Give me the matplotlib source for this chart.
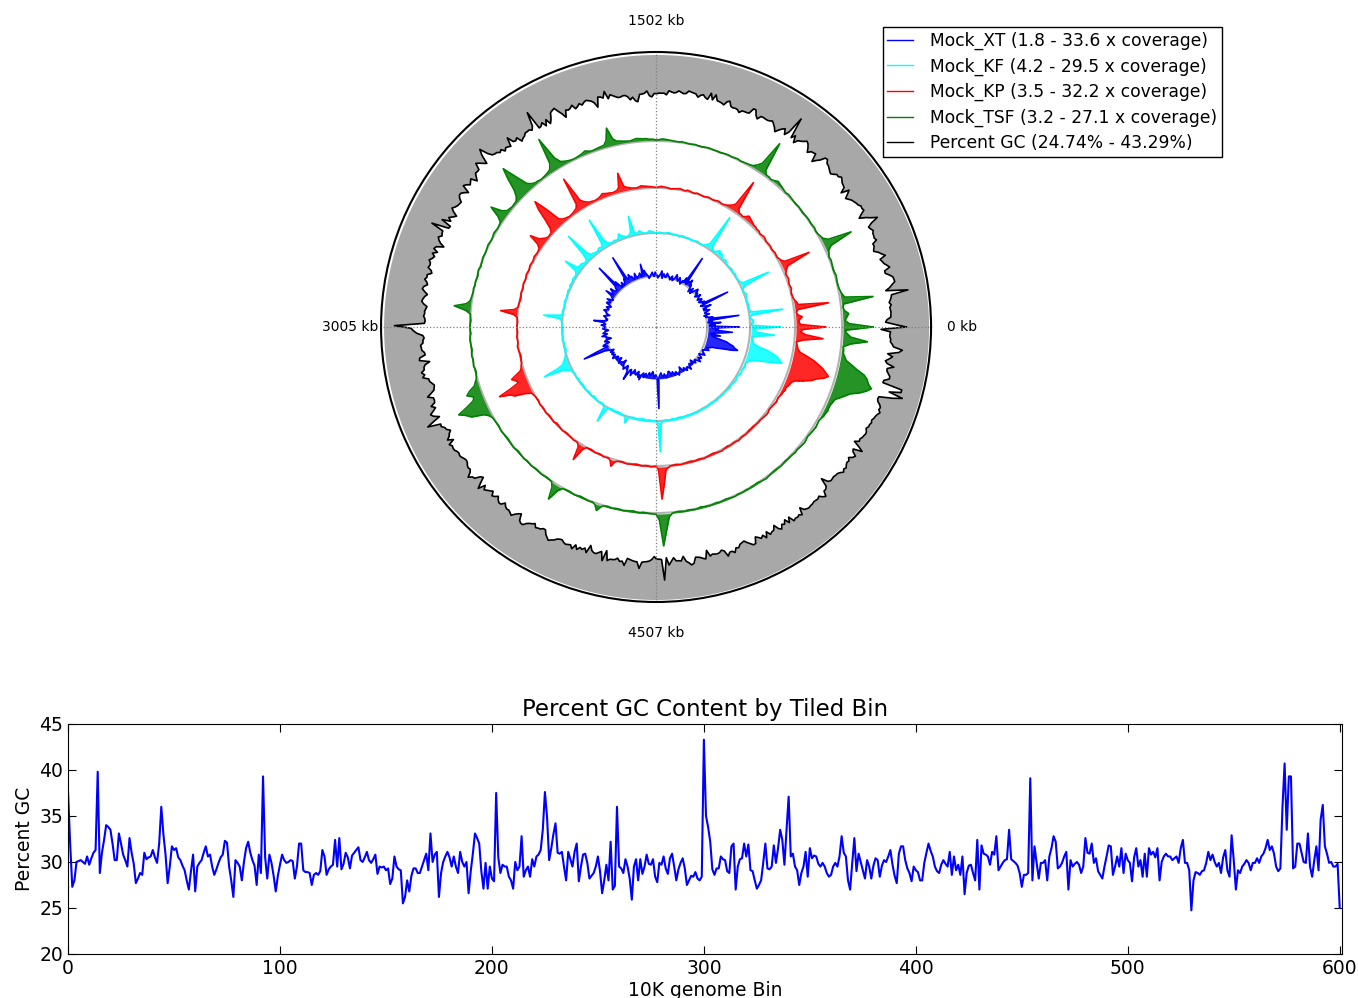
import numpy as np
import matplotlib
matplotlib.use('Agg')
import matplotlib.pyplot as plt
from matplotlib.lines import Line2D

# ------------------------------------------------------------------ data
GENOME_KB = 6010
BIN_KB = 10

# percent GC per 10 kb bin (bins 0..600)
gc_percent = [
    37.6, 32.0, 27.3, 28.0, 30.0, 30.1, 30.2, 30.0, 29.8, 30.6,
    29.7, 30.4, 31.0, 31.3, 39.8, 28.8, 31.0, 32.4, 34.0, 33.8,
    33.5, 32.0, 30.2, 30.2, 33.1, 32.0, 30.8, 30.2, 29.5, 32.6,
    31.0, 29.8, 27.7, 28.2, 28.8, 28.6, 31.0, 30.3, 30.5, 30.6,
    31.3, 30.5, 29.9, 32.0, 36.0, 33.0, 30.8, 27.7, 29.5, 31.7,
    31.3, 31.5, 30.5, 30.2, 29.6, 29.1, 28.0, 27.0, 29.0, 30.8,
    26.8, 29.5, 29.9, 30.2, 31.0, 31.7, 30.6, 30.8, 29.5, 28.6,
    29.2, 29.9, 30.5, 30.8, 32.3, 32.1, 29.5, 28.0, 26.2, 30.2,
    29.9, 29.5, 28.0, 30.0, 31.5, 32.2, 31.0, 30.2, 29.6, 27.5,
    30.8, 28.8, 39.3, 30.5, 28.2, 30.8, 29.9, 28.5, 26.8, 28.5,
    29.7, 30.8, 30.2, 29.9, 30.0, 30.2, 30.1, 28.2, 29.5, 32.0,
    32.0, 29.1, 28.9, 28.9, 28.8, 27.5, 28.6, 28.8, 28.6, 29.0,
    31.3, 30.6, 28.6, 29.2, 29.5, 29.7, 32.4, 29.5, 32.6, 29.2,
    29.8, 31.0, 30.5, 29.3, 30.7, 31.0, 31.3, 31.6, 30.2, 30.0,
    30.5, 31.1, 30.2, 29.9, 30.3, 30.8, 28.7, 29.5, 29.4, 29.5,
    29.1, 29.3, 27.6, 28.2, 30.6, 29.5, 29.2, 29.1, 25.5, 26.2,
    28.0, 26.8, 28.5, 29.3, 29.3, 28.8, 28.8, 29.5, 30.2, 30.9,
    29.1, 33.1, 30.0, 30.8, 31.1, 26.2, 28.8, 30.0, 30.6, 31.1,
    30.5, 29.5, 30.6, 29.5, 28.8, 31.1, 30.0, 29.5, 30.0, 26.6,
    29.0, 30.9, 33.1, 32.6, 32.0, 29.0, 27.1, 29.9, 27.1, 29.5,
    28.2, 27.9, 37.5, 30.5, 28.8, 29.7, 29.5, 29.5, 28.4, 28.0,
    27.1, 30.0, 29.1, 29.5, 32.8, 28.4, 29.1, 29.5, 28.4, 30.3,
    29.5, 30.6, 30.8, 31.3, 33.5, 37.6, 34.9, 30.2, 31.5, 33.0,
    34.2, 31.0, 30.9, 31.1, 29.5, 28.0, 31.1, 30.3, 29.5, 31.1,
    32.0, 27.9, 29.5, 30.8, 30.9, 29.9, 28.2, 28.5, 28.8, 29.5,
    30.6, 29.0, 26.6, 28.0, 29.7, 28.0, 32.2, 27.0, 27.4, 36.0,
    29.5, 29.3, 28.8, 30.3, 29.5, 28.2, 25.9, 29.5, 30.3, 28.0,
    30.3, 28.7, 29.5, 30.8, 29.8, 29.7, 30.3, 28.4, 27.8, 29.9,
    29.7, 30.6, 29.3, 28.7, 30.4, 30.9, 29.5, 28.0, 29.2, 29.9,
    30.4, 29.3, 27.5, 28.0, 28.5, 28.4, 28.9, 28.2, 28.0, 28.4,
    43.29, 35.0, 33.8, 32.2, 29.2, 28.6, 29.3, 29.3, 30.6, 30.3,
    30.2, 29.0, 28.8, 31.7, 32.0, 27.0, 29.5, 30.3, 30.4, 32.0,
    30.6, 31.9, 29.1, 29.0, 28.0, 27.1, 27.5, 28.0, 29.9, 32.0,
    29.3, 29.2, 29.5, 31.8, 29.9, 31.5, 33.5, 32.4, 29.7, 33.5,
    37.1, 30.6, 30.9, 29.5, 29.1, 27.5, 28.8, 29.5, 31.1, 28.4,
    31.5, 30.4, 30.7, 30.6, 29.8, 29.5, 29.9, 29.5, 28.8, 28.4,
    28.6, 29.5, 29.9, 29.5, 30.6, 32.8, 31.0, 30.6, 28.0, 27.0,
    29.9, 32.6, 29.0, 30.9, 30.0, 29.1, 28.2, 30.2, 29.5, 28.2,
    29.6, 30.4, 30.2, 28.4, 29.6, 30.2, 30.0, 30.6, 31.3, 29.7,
    28.5, 27.7, 30.9, 31.7, 31.7, 30.2, 29.3, 28.8, 27.9, 29.5,
    29.1, 28.9, 28.0, 28.0, 29.9, 31.0, 32.0, 31.2, 30.6, 29.5,
    29.0, 28.8, 29.7, 30.2, 29.8, 29.5, 31.1, 28.6, 30.6, 29.1,
    29.7, 28.6, 30.6, 26.5, 28.8, 29.6, 29.7, 28.8, 28.0, 32.4,
    27.0, 31.8, 30.9, 30.8, 30.6, 29.7, 31.1, 30.8, 32.8, 29.1,
    29.5, 29.9, 30.2, 30.3, 33.5, 30.3, 30.1, 29.9, 29.6, 28.8,
    27.3, 28.6, 28.6, 28.8, 39.1, 28.0, 31.7, 29.9, 28.2, 29.9,
    29.9, 30.2, 28.0, 30.6, 31.5, 32.8, 32.2, 29.3, 29.5, 29.9,
    30.6, 31.1, 27.0, 30.2, 29.5, 29.8, 30.0, 29.7, 28.8, 29.5,
    32.6, 31.0, 30.9, 32.0, 29.9, 30.4, 29.0, 28.6, 28.2, 29.5,
    30.6, 31.8, 31.7, 28.6, 29.5, 30.6, 29.5, 31.5, 28.8, 30.9,
    30.2, 29.9, 27.9, 30.5, 31.5, 29.5, 30.2, 28.4, 30.9, 28.4,
    31.5, 30.8, 31.1, 30.5, 31.5, 28.0, 30.0, 30.6, 30.9, 30.6,
    30.6, 30.2, 30.4, 30.6, 29.9, 31.5, 32.4, 29.9, 29.9, 29.1,
    24.74, 28.0, 28.9, 28.8, 28.6, 29.0, 29.1, 29.9, 31.1, 30.2,
    30.8, 30.0, 29.5, 29.9, 28.8, 30.5, 31.3, 29.1, 28.4, 32.9,
    30.2, 27.0, 29.1, 28.8, 29.5, 29.8, 30.2, 29.9, 29.1, 29.9,
    29.9, 30.4, 29.9, 30.6, 30.9, 31.5, 32.4, 31.3, 31.7, 30.9,
    29.5, 29.0, 29.3, 36.0, 40.7, 33.5, 39.3, 39.3, 29.3, 29.5,
    32.0, 32.0, 31.0, 30.0, 29.9, 33.1, 29.5, 28.4, 30.2, 31.7,
    29.1, 34.6, 36.2, 31.7, 30.9, 29.9, 30.0, 29.5, 29.5, 29.8,
    25.0,
]

# read coverage (x) round the circle, one value per degree (0..359)
cov_xt = [
    32.1, 12, 16, 13, 20, 11, 14, 12, 32.8, 13, 15, 10, 11, 9, 13, 11, 10, 12, 14, 10,
    12, 10, 16, 12, 11, 9, 30, 11, 13, 10, 9, 12, 12, 9, 10, 11, 13, 10, 9, 12,
    11, 13, 14, 12, 10, 8, 12, 10, 8, 11, 13, 12, 16, 13, 14, 11, 32.1, 12, 15, 11,
    12, 9, 10, 12, 13, 10, 11, 13, 14, 11, 10, 9, 12, 10, 9, 11, 11, 12, 13, 10,
    10, 12, 12, 9, 14, 12, 11, 10, 9, 11, 12, 13, 10, 11, 13, 12, 11, 10, 9, 11,
    12, 13, 15, 12, 19.7, 12, 11, 14, 13, 12, 12, 11, 15, 13, 11, 12, 14, 13, 16, 14,
    13, 15, 31.4, 14, 15, 13, 12, 11, 14, 12, 11, 13, 17, 14, 31.4, 15, 14, 12, 12, 13,
    16, 14, 13, 12, 17.6, 13, 12, 11, 10, 12, 14, 11, 11, 13, 13, 10, 9, 11, 12, 10,
    10, 12, 13, 11, 11, 10, 8, 10, 12, 11, 10, 9, 9, 10, 18.3, 12, 11, 10, 13, 11,
    10, 11, 12, 9, 8, 10, 11, 12, 9, 11, 13, 10, 10, 8, 7, 11, 12, 10, 9, 13,
    14, 12, 11, 20, 29.3, 14, 12, 10, 8, 11, 10, 9, 11, 10, 9, 11, 12, 9, 8, 10,
    10, 8, 7, 10, 11, 9, 9, 8, 6, 9, 10, 11, 12, 10, 8, 9, 11, 12, 17.6, 10,
    9, 11, 13, 10, 8, 9, 10, 11, 9, 8, 12, 10, 13.4, 10, 9, 8, 11, 9, 8, 10,
    10, 8, 7, 9, 9, 7, 6, 8, 10, 9, 8, 10, 31.4, 11, 9, 8, 7, 9, 10, 9,
    8, 10, 11, 9, 9, 7, 7, 8, 10, 9, 8, 10, 11, 9, 9, 11, 12, 10, 10, 9,
    7, 9, 11, 10, 9, 11, 12, 10, 10, 11, 13, 10, 9, 10, 11, 9, 8, 11, 12, 10,
    10, 12, 14, 12, 11, 13, 13, 11, 10, 12, 14, 13, 12, 11, 11, 13, 15, 14, 13, 15,
    16, 20, 24, 30, 33.6, 31, 30, 27, 25, 20, 16, 14, 20, 13, 15, 21, 27.9, 16, 18, 14,
]
cov_kf = [
    25.2, 10, 10, 11, 11, 9.6, 9.5, 10, 27.4, 10, 10, 9.4, 9.2, 9.6, 9.8, 9.2, 9, 9.4, 9.5, 9.8,
    10.5, 9.6, 9, 9.4, 9.6, 12, 25.8, 11, 10, 9.6, 9.4, 9.2, 9, 9.6, 9.8, 9.2, 9.2, 9.6, 9.8, 9.4,
    9, 9.4, 9.6, 10, 10.5, 9.8, 9.3, 10.5, 11.5, 10.8, 12, 11, 9.6, 10, 10, 12, 29.5, 12, 11, 10,
    9.4, 9.2, 9, 9.4, 9.6, 9.4, 9.2, 9, 8.8, 9.2, 9.4, 9.2, 9, 9.4, 9.6, 9.2, 8.8, 9.1, 9.4, 9.2,
    9, 9.4, 9.8, 9.6, 9.2, 9, 8.9, 9.2, 9.5, 9.3, 9.1, 9.4, 9.7, 10, 10.4, 9.6, 9.2, 9.4, 9.6, 10.4,
    11, 10.2, 9.8, 11, 19.8, 11.5, 10.2, 9.8, 9.4, 10, 10.6, 11.2, 12.5, 10.4, 9.8, 10, 10.2, 9.8, 9.6, 10.2,
    10.8, 13, 26.3, 12.5, 10.4, 10.6, 11, 10.4, 9.8, 10.2, 10.4, 10.8, 11, 13, 26.3, 14, 10.6, 10.2, 10, 10.6,
    11.2, 11, 11.2, 12, 18.7, 11.5, 10.4, 10, 9.8, 10, 10.2, 9.8, 9.6, 9.8, 10, 9.6, 9.2, 9.6, 9.8, 9.4,
    9.4, 9.2, 9, 9.2, 9.6, 9.4, 9.2, 9, 8.8, 9.2, 9.4, 9.6, 9, 10.5, 19.3, 10.5, 9.6, 9.4, 9.2, 9,
    9, 8.8, 8.6, 8.8, 9.2, 9, 8.8, 9.2, 9.4, 9, 8.6, 8.8, 9, 8.6, 8.4, 8.8, 9.2, 9.4, 9.8, 10.5,
    11, 12, 12.5, 16, 24.1, 14, 11.5, 10, 9.6, 9.2, 8.8, 9, 9.2, 9, 8.6, 8.8, 9, 8.8, 8.4, 8.6,
    8.8, 9, 9.2, 8.8, 8.6, 8.8, 9, 9.2, 8.4, 8.6, 8.8, 9, 9.4, 9, 8.6, 8.8, 9, 10, 18.2, 10,
    9.2, 8.8, 8.6, 8.8, 9, 8.6, 8.4, 8.6, 8.8, 9, 9.2, 9.6, 12.8, 9.4, 9, 8.8, 8.6, 8.8, 9.2, 9,
    8.8, 8.6, 8.4, 8.6, 9, 8.8, 8.6, 8.8, 9.2, 9, 8.8, 10, 25.8, 10.4, 9.4, 9, 8.8, 9, 9.2, 9,
    8.6, 8.8, 9, 8.8, 8.6, 8.8, 8.8, 9, 9.2, 9, 8.8, 9, 9.4, 9.2, 9, 9.2, 9.6, 9.4, 9.2, 9,
    8.8, 9.2, 9.4, 9.6, 9.2, 9, 8.8, 9.2, 9.4, 9.6, 9.8, 9.4, 9.2, 9.6, 9.6, 9.8, 9.2, 9.6, 9.4, 9.8,
    10, 9.8, 9.4, 9.6, 9.8, 10, 10.2, 10, 9.6, 9.8, 10, 10.4, 10.6, 10.2, 10.2, 10.6, 11, 10.6, 10.4, 11,
    12, 14, 18, 24, 29, 27, 26, 23, 20, 15, 12, 11.5, 11, 10.8, 10.4, 14, 22.5, 13, 12, 11,
]
cov_kp = [
    26.7, 13, 12, 12.5, 14, 11.5, 11, 12, 29.4, 12.5, 12, 11, 10.5, 10.2, 10, 10.4, 10.8, 10.5, 10.2, 10.6,
    11, 10.8, 10.4, 11, 12, 13.5, 27.2, 13, 11.5, 10.8, 10.2, 10.4, 10.6, 10.2, 10, 10.4, 10.4, 10.2, 10, 10.6,
    10.8, 10.4, 10.2, 10.8, 10.6, 11, 11, 11.5, 12, 12.5, 13, 11.5, 10.6, 11, 11, 13, 29.4, 14, 12.5, 11.5,
    10.8, 10.4, 10.2, 10.6, 10.6, 10.2, 10, 10.2, 10.4, 10, 9.8, 10, 10.2, 10.4, 9.8, 10, 10.4, 10.6, 10, 10.2,
    10.6, 10.4, 10.2, 10, 9.8, 10.2, 10.4, 10.6, 10.8, 10.4, 10.2, 10.4, 10.6, 10.8, 11, 11.2, 11.5, 11, 10.6, 10.8,
    11, 11.5, 12, 13, 20.6, 13, 11.5, 11.2, 11, 11.4, 11.6, 12, 12.5, 11.6, 11, 10.8, 10.6, 11, 11.2, 12,
    13, 15, 29.4, 14, 12, 11.6, 11, 10.8, 10.6, 11, 11.4, 12, 13.5, 22, 29.4, 25, 18, 13, 11, 10.8,
    10.6, 11.2, 12.5, 14, 18.9, 13, 11, 10.6, 10.4, 10.6, 10.8, 10.4, 10.2, 10.4, 10.6, 10.2, 10, 10.2, 10.4, 10,
    9.8, 10, 10.2, 9.8, 9.6, 9.8, 10, 9.6, 9.4, 9.6, 9.8, 10, 10.2, 12, 19.4, 12, 10, 9.8, 9.6, 9.8,
    10, 9.8, 9.6, 9.8, 10.2, 10, 9.8, 10, 10.4, 10.2, 10, 9.6, 9.4, 9.6, 9.8, 10, 10.6, 11, 12, 15,
    18, 16, 15, 20, 27.8, 22, 20, 14, 11, 10.4, 10, 9.8, 9.6, 10, 10.2, 9.8, 9.8, 10, 10.2, 9.8,
    9.6, 9.8, 10, 10.2, 9.4, 9.6, 9.8, 10, 10.2, 9.8, 9.6, 9.8, 10, 10.2, 10.4, 10.2, 10.4, 12, 19.4, 12,
    10, 9.8, 9.6, 9.8, 10.2, 10, 9.8, 10, 10.4, 10.2, 10, 11, 13.9, 11, 10.2, 10, 9.8, 10.2, 10.4, 10.2,
    10, 9.8, 9.6, 9.8, 10.2, 10, 9.8, 10, 10.4, 10.2, 10, 12, 28.3, 20, 12, 11, 10.2, 10, 9.8, 10,
    10.4, 10.2, 10, 9.8, 9.6, 9.8, 10.2, 10, 9.8, 10, 10.4, 10.2, 10, 9.8, 9.6, 9.8, 10.2, 10.4, 10.6, 10.2,
    10, 9.8, 10.4, 10.2, 10, 10.2, 10.6, 10.4, 10, 10.2, 10.4, 10.2, 9.8, 10, 9.8, 10, 10.2, 10.4, 10.2, 10.4,
    10.6, 10.8, 11, 10.8, 10.4, 10.6, 10.8, 11, 11.4, 11.2, 11, 11.4, 11.8, 12, 12.5, 12.2, 13, 13.5, 14, 16,
    20, 24, 26, 30, 32.2, 30, 28, 25, 22, 18, 14, 12.5, 12, 11.5, 11, 15, 25.6, 16, 13, 14,
]
cov_tsf = [
    23.7, 12, 10, 11, 12, 10, 9.5, 10, 24.7, 11, 10, 9.4, 9, 8.8, 8.8, 9, 9.2, 8.8, 8.6, 8.8,
    9, 9.2, 8.8, 9.4, 10, 12, 23.7, 12, 10, 9.4, 8.8, 8.6, 9, 8.8, 8.6, 8.8, 8.8, 8.6, 8.4, 8.6,
    8.8, 8.6, 8.6, 8.8, 9, 9.2, 8.8, 9.2, 9.6, 10, 10.5, 9.6, 9, 9.4, 9.4, 11, 25.7, 13, 11, 9.6,
    9.2, 9, 8.8, 8.6, 9, 8.8, 8.6, 8.8, 8.8, 8.6, 8.4, 8.6, 8.6, 8.8, 8.8, 8.6, 8.4, 8.6, 8.8, 8.6,
    8.6, 8.8, 9, 8.8, 8.8, 9, 9.2, 9.4, 9.6, 9.2, 9, 9.4, 9.4, 9.8, 9.8, 10, 10.2, 9.8, 9.4, 9.6,
    9.8, 10.2, 10.5, 12, 17.8, 12, 10, 9.8, 9.6, 9.4, 9.2, 9.6, 10.4, 9.8, 9.4, 9.2, 9, 9.2, 9.6, 10.2,
    11, 14, 25.7, 13, 10.5, 9.8, 9.4, 9.2, 9, 9.4, 9.6, 10.4, 12, 18, 25.2, 20, 14, 11, 9.6, 9.4,
    9.2, 9.6, 10, 12, 17.3, 12, 9.4, 9, 8.8, 9, 9.2, 8.8, 8.6, 8.8, 9, 8.8, 8.6, 8.6, 8.8, 8.6,
    8.4, 8.2, 8.8, 8.6, 8.2, 8.4, 8.6, 8.4, 8.8, 8.6, 8.8, 9, 9.4, 11, 16.8, 11, 8.6, 8.4, 8.2, 8.4,
    8.6, 8.4, 8.2, 8.6, 8.8, 8.6, 8.4, 8.2, 8.6, 8.8, 8.4, 8.6, 8.8, 8.4, 8.2, 8.6, 9, 10, 11, 14,
    16, 13, 14, 18, 23.2, 20, 18, 12, 10, 9, 8.8, 8.6, 8.4, 8.6, 8.8, 8.6, 8.4, 8.2, 8.4, 8.6,
    8.8, 8.6, 8.2, 8.4, 8.6, 8.8, 8.4, 8.6, 8.8, 8.6, 8.4, 8.6, 8.8, 8.6, 8.4, 8.6, 8.8, 11, 16.8, 11,
    8.8, 8.6, 8.4, 8.6, 8.8, 8.6, 8.2, 8.4, 8.6, 8.8, 8.6, 9.4, 11.9, 9.4, 8.6, 8.4, 8.8, 8.6, 8.4, 8.6,
    8.8, 8.6, 8.4, 8.2, 8.6, 8.8, 8.4, 8.6, 8.8, 9, 9.2, 12, 24.7, 17, 10.5, 9, 8.6, 8.4, 8.6, 8.8,
    8.4, 8.6, 8.8, 8.6, 8.2, 8.6, 8.6, 8.8, 8.6, 8.4, 8.8, 8.6, 8.4, 8.6, 8.8, 9, 8.6, 8.8, 8.8, 8.6,
    8.8, 8.6, 8.6, 8.4, 8.8, 9, 9.2, 9, 8.8, 8.6, 8.6, 8.8, 9, 8.8, 8.6, 8.8, 8.8, 9, 9.2, 9,
    9.2, 9.4, 9.6, 9.4, 9, 9.2, 9.4, 9.6, 9.8, 9.6, 9.4, 9.8, 10.4, 10.6, 11, 10.8, 11, 11.5, 12, 14,
    16, 18, 22, 25, 27.1, 25, 24, 22, 18, 15, 12, 11, 10, 10, 9.6, 13, 21.2, 13, 11, 10,
]

coverages = [cov_xt, cov_kf, cov_kp, cov_tsf]
legend_labels = [
    'Mock_XT (1.8 - 33.6 x coverage)',
    'Mock_KF (4.2 - 29.5 x coverage)',
    'Mock_KP (3.5 - 32.2 x coverage)',
    'Mock_TSF (3.2 - 27.1 x coverage)',
    'Percent GC (24.74% - 43.29%)',
]
ring_colors = ['blue', 'cyan', 'red', 'green']
angle_labels = ['0 kb', '1502 kb', '3005 kb', '4507 kb']

# ring layout (radial units, outer edge = 275)
R_MAX = 275
ring_base = [52, 95, 140, 187]
ring_scale = [1.45, 1.85, 1.8, 2.04]
GC_BASE, GC_SCALE = 235, 2.0


def closed(a):
    return np.append(a, a[0])


# ------------------------------------------------------------------ figure
fig = plt.figure(figsize=(13.58, 9.98), dpi=100)

ax = fig.add_axes([0.2806, 0.3968, 0.405, 0.5511], projection='polar')
gc = np.array(gc_percent)
theta_gc = np.arange(len(gc)) * BIN_KB / GENOME_KB * 2 * np.pi
r_gc = GC_BASE + (gc - 30) * GC_SCALE
ax.fill_between(closed(theta_gc), closed(r_gc), R_MAX - 2.5,
                color='#a8a8a8', lw=0, zorder=1)
ax.plot(closed(theta_gc), closed(r_gc), color='black', lw=1.2, zorder=2)

theta_circle = np.linspace(0, 2 * np.pi, 361)
for cov, c, base, k in zip(coverages, ring_colors, ring_base, ring_scale):
    cov = np.array(cov)
    th = np.deg2rad(np.arange(len(cov)) * 360.0 / len(cov))
    r = base + (cov - np.median(cov)) * k
    ax.plot(theta_circle, np.full_like(theta_circle, base - 1), color='gray',
            lw=1.5, alpha=0.6, zorder=1)
    ax.fill_between(closed(th), base, closed(r), color=c, alpha=0.85,
                    lw=0, zorder=1.5)
    ax.plot(closed(th), closed(r), color=c, lw=1.2, zorder=2)

ax.set_ylim(0, R_MAX)
ax.set_yticks([])
ax.set_xticks(np.deg2rad([0, 90, 180, 270]))
ax.set_xticklabels(angle_labels)
ax.tick_params(axis='x', pad=12, labelsize=10)
ax.grid(True, axis='x', linestyle=':', color='gray', lw=0.9)
ax.set_axisbelow(False)
ax.spines['polar'].set_linewidth(1.5)

handles = [Line2D([], [], color=c, lw=1) for c in ring_colors]
handles.append(Line2D([], [], color='black', lw=1))
fig.legend(handles, legend_labels, loc='upper right',
           bbox_to_anchor=(1222 / 1358, 1 - 27 / 998), borderaxespad=0,
           fontsize=12.3, fancybox=False, edgecolor='black',
           handlelength=1.5, handletextpad=1.0, labelspacing=0.43,
           borderpad=0.28, framealpha=1)

# ------------------------------------------------------------------ GC line plot
ax2 = fig.add_axes([0.0501, 0.0441, 0.938, 0.2305])
ax2.plot(np.arange(len(gc)), gc, color='blue', lw=1.5)
ax2.set_xlim(0, 601)
ax2.set_ylim(20, 45)
ax2.set_xticks(range(0, 601, 100))
ax2.set_yticks(range(20, 46, 5))
ax2.tick_params(direction='in', top=True, right=True, labelsize=13.5, length=6)
ax2.set_title('Percent GC Content by Tiled Bin', fontsize=16.5)
ax2.set_xlabel('10K genome Bin', fontsize=13.5, labelpad=2)
ax2.set_ylabel('Percent GC', fontsize=13.5)

fig.savefig('out.png', dpi=100)
